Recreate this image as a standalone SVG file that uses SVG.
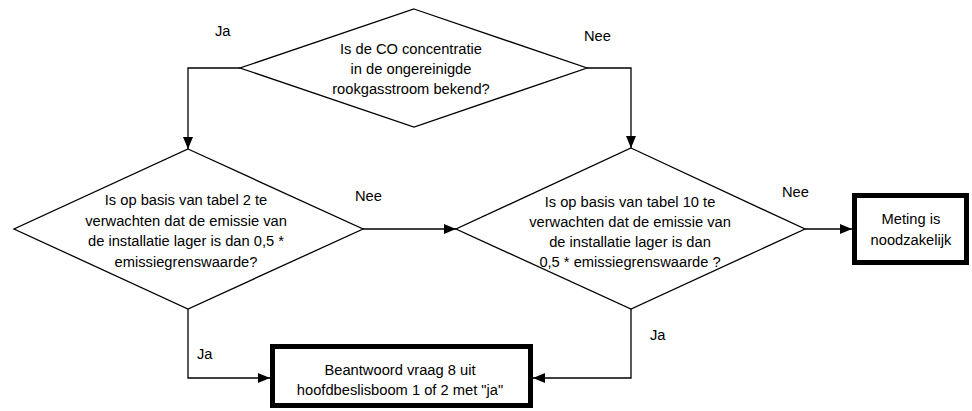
<svg xmlns="http://www.w3.org/2000/svg" width="972" height="411" viewBox="0 0 972 411">
<defs>
<style>
.shape{fill:#fff;stroke:#000;stroke-width:1.3}
.box{fill:#fff;stroke:#000;stroke-width:5}
.conn{fill:none;stroke:#000;stroke-width:1.3}
text{font-family:"Liberation Sans",Arial,sans-serif;font-size:14.7px;fill:#000}
.c{text-anchor:middle}
</style>
<marker id="arr" markerUnits="userSpaceOnUse" markerWidth="12" markerHeight="10" viewBox="0 0 12 10" refX="12" refY="5" orient="auto">
<path d="M0,0 L12,5 L0,10 Z" fill="#000"/>
</marker>
</defs>
<rect width="972" height="411" fill="#fff"/>
<g id="connectors">
<path class="conn" d="M240,68 H188 V149" marker-end="url(#arr)"/>
<path class="conn" d="M587,68 H631 V148" marker-end="url(#arr)"/>
<path class="conn" d="M363,229 H456" marker-end="url(#arr)"/>
<path class="conn" d="M805,229 H852" marker-end="url(#arr)"/>
<path class="conn" d="M188,309 V378 H270" marker-end="url(#arr)"/>
<path class="conn" d="M631,309 V378 H533" marker-end="url(#arr)"/>
<text x="215" y="36">Ja</text>
<text x="584" y="41">Nee</text>
<text x="355" y="201">Nee</text>
<text x="782" y="197">Nee</text>
<text x="197" y="359">Ja</text>
<text x="650" y="340">Ja</text>
</g>
<g id="q1">
<polygon class="shape" points="414,9 587,68 414,127 240,68"/>
<text class="c" x="411" y="54">Is de CO concentratie</text>
<text class="c" x="411" y="74">in de ongereinigde</text>
<text class="c" x="411" y="94">rookgasstroom bekend?</text>
</g>
<g id="q2">
<polygon class="shape" points="188,149 363,229 188,309 14,229"/>
<text class="c" x="186" y="205">Is op basis van tabel 2 te</text>
<text class="c" x="186" y="226">verwachten dat de emissie van</text>
<text class="c" x="186" y="246">de installatie lager is dan 0,5 *</text>
<text class="c" x="186" y="267">emissiegrenswaarde?</text>
</g>
<g id="q3">
<polygon class="shape" points="631,148 805,229 631,309 456,229"/>
<text class="c" x="630" y="207">Is op basis van tabel 10 te</text>
<text class="c" x="630" y="227">verwachten dat de emissie van</text>
<text class="c" x="630" y="247">de installatie lager is dan</text>
<text class="c" x="630" y="267">0,5 * emissiegrenswaarde ?</text>
</g>
<g id="meting">
<rect class="box" x="854.5" y="195.5" width="112" height="67"/>
<text class="c" x="911" y="224">Meting is</text>
<text class="c" x="911" y="245">noodzakelijk</text>
</g>
<g id="beantwoord">
<rect class="box" x="272.5" y="346.5" width="258" height="59"/>
<text class="c" x="400" y="375">Beantwoord vraag 8 uit</text>
<text class="c" x="400" y="395">hoofdbeslisboom 1 of 2 met "ja"</text>
</g>
</svg>
